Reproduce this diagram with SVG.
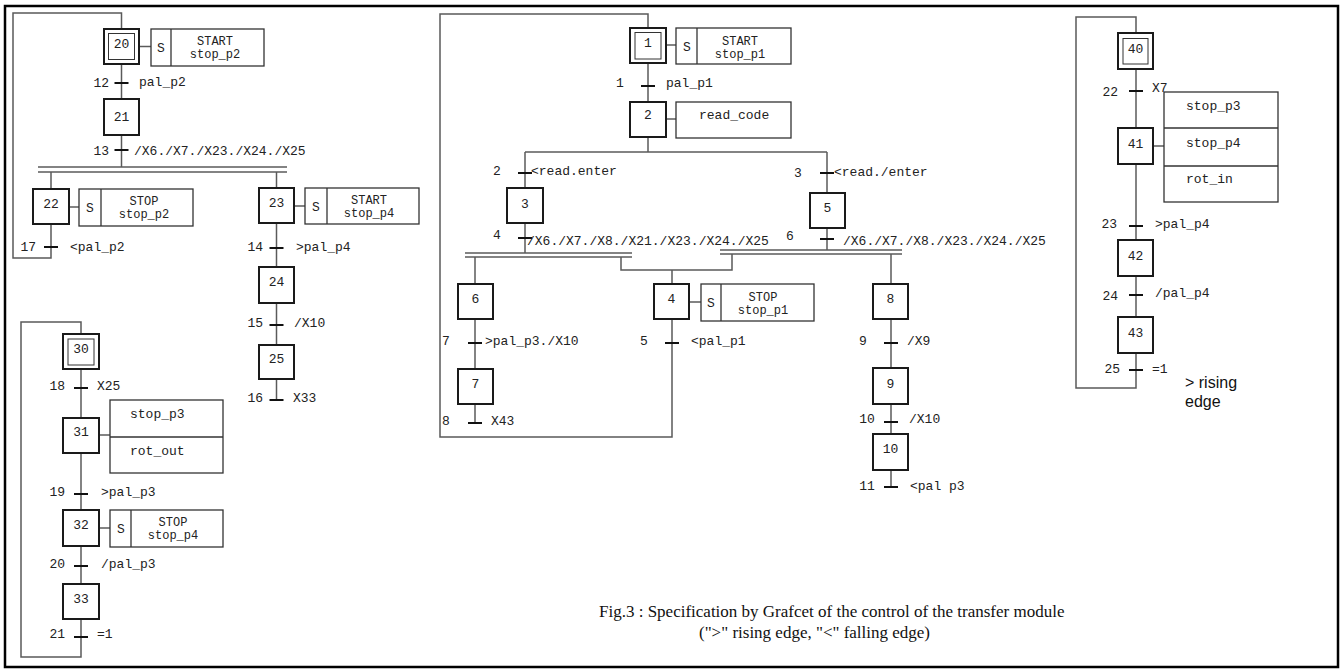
<svg xmlns="http://www.w3.org/2000/svg" width="1343" height="671" viewBox="0 0 1343 671">
<style>
.frame{fill:#fff;stroke:#000;stroke-width:2.5}
.step{fill:#fff;stroke:#1a1a1a;stroke-width:2}
.inner{fill:none;stroke:#333;stroke-width:1}
.act{fill:#fff;stroke:#333;stroke-width:1.3}
.ln{fill:none;stroke:#5a5a5a;stroke-width:1.5}
.tk{stroke:#111;stroke-width:2}
.t{font-family:"Liberation Mono","DejaVu Sans Mono",monospace;font-size:13px;fill:#222}
.a2{font-size:12px}
.m{text-anchor:middle}
.e{text-anchor:end}
.cap{font-family:"Liberation Serif","Times New Roman",serif;font-size:17px;fill:#111}
.note{font-family:"Liberation Sans",Arial,sans-serif;font-size:16px;fill:#111}
</style>
<defs>
<clipPath id="clip6"><rect x="835" y="225" width="215" height="30"/></clipPath>
</defs>
<rect class="frame" x="5" y="6" width="1333" height="661"/>

<g id="connectors">
<polyline class="ln" points="51,224 51,258 13,258 13,13 121.5,13 121.5,29"/>
<line class="ln" x1="121.5" y1="64" x2="121.5" y2="99"/>
<line class="ln" x1="121.5" y1="135" x2="121.5" y2="167"/>
<line class="ln" x1="38" y1="167" x2="287" y2="167"/>
<line class="ln" x1="38" y1="172" x2="287" y2="172"/>
<line class="ln" x1="51" y1="172" x2="51" y2="189"/>
<line class="ln" x1="276.5" y1="172" x2="276.5" y2="188"/>
<line class="ln" x1="276.5" y1="223" x2="276.5" y2="267"/>
<line class="ln" x1="276.5" y1="303" x2="276.5" y2="345"/>
<line class="ln" x1="276.5" y1="379" x2="276.5" y2="400"/>
<line class="ln" x1="139" y1="46.5" x2="151" y2="46.5"/>
<line class="ln" x1="69" y1="207" x2="79" y2="207"/>
<line class="ln" x1="294" y1="206" x2="305" y2="206"/>
<polyline class="ln" points="81,619 81,657 21,657 21,322 81,322 81,334"/>
<line class="ln" x1="81" y1="369" x2="81" y2="418"/>
<line class="ln" x1="81" y1="453" x2="81" y2="510"/>
<line class="ln" x1="81" y1="546" x2="81" y2="584"/>
<line class="ln" x1="99" y1="435" x2="110" y2="435"/>
<line class="ln" x1="99" y1="528" x2="110" y2="528"/>
<polyline class="ln" points="672,319 672,437 440,437 440,14 648,14 648,28"/>
<line class="ln" x1="648" y1="63" x2="648" y2="102"/>
<line class="ln" x1="648" y1="137" x2="648" y2="152"/>
<line class="ln" x1="525" y1="152" x2="827" y2="152"/>
<line class="ln" x1="525" y1="152" x2="525" y2="188"/>
<line class="ln" x1="525" y1="223" x2="525" y2="253"/>
<line class="ln" x1="827" y1="152" x2="827" y2="193"/>
<line class="ln" x1="827" y1="228" x2="827" y2="250"/>
<line class="ln" x1="465" y1="253" x2="632" y2="253"/>
<line class="ln" x1="465" y1="257" x2="632" y2="257"/>
<line class="ln" x1="720" y1="250" x2="902" y2="250"/>
<line class="ln" x1="720" y1="254" x2="902" y2="254"/>
<line class="ln" x1="475" y1="257" x2="475" y2="284"/>
<polyline class="ln" points="621,257 621,270 732,270 732,254"/>
<line class="ln" x1="672" y1="270" x2="672" y2="284"/>
<line class="ln" x1="891" y1="254" x2="891" y2="284"/>
<line class="ln" x1="475" y1="319" x2="475" y2="369"/>
<line class="ln" x1="475" y1="404" x2="475" y2="423"/>
<line class="ln" x1="891" y1="319" x2="891" y2="368"/>
<line class="ln" x1="891" y1="404" x2="891" y2="434"/>
<line class="ln" x1="891" y1="470" x2="891" y2="487"/>
<line class="ln" x1="666" y1="45" x2="676" y2="45"/>
<line class="ln" x1="666" y1="119" x2="676" y2="119"/>
<line class="ln" x1="689" y1="302" x2="701" y2="302"/>
<polyline class="ln" points="1136,353 1136,388 1076,388 1076,17 1136,17 1136,33"/>
<line class="ln" x1="1136" y1="69" x2="1136" y2="128"/>
<line class="ln" x1="1136" y1="164" x2="1136" y2="240"/>
<line class="ln" x1="1136" y1="276" x2="1136" y2="317"/>
<line class="ln" x1="1153" y1="146" x2="1164" y2="146"/>
</g>

<g id="step20"><rect class="step" x="104" y="29" width="35" height="35"/><rect class="inner" x="108.5" y="33.5" width="26" height="26"/><text class="t m" x="121.5" y="48">20</text></g>
<g id="action20"><rect class="act" x="151" y="29" width="113" height="37"/><line class="act" x1="171" y1="29" x2="171" y2="66"/><text class="t m" x="161" y="51.5">S</text><text class="t a2 m" x="215" y="45">START</text><text class="t a2 m" x="215" y="58">stop_p2</text></g>
<g id="t12"><line class="tk" x1="114.5" y1="83" x2="128.5" y2="83"/><text class="t e" x="109" y="87">12</text><text class="t" x="139" y="86">pal_p2</text></g>
<g id="step21"><rect class="step" x="104" y="99" width="35" height="36"/><text class="t m" x="121.5" y="121">21</text></g>
<g id="t13"><line class="tk" x1="114.5" y1="150" x2="128.5" y2="150"/><text class="t e" x="109" y="154.5">13</text><text class="t" x="134" y="154.5">/X6./X7./X23./X24./X25</text></g>
<g id="step22"><rect class="step" x="33" y="189" width="36" height="35"/><text class="t m" x="51" y="208">22</text></g>
<g id="action22"><rect class="act" x="79" y="189" width="114" height="37"/><line class="act" x1="101" y1="189" x2="101" y2="226"/><text class="t m" x="90" y="211.5">S</text><text class="t a2 m" x="144" y="205">STOP</text><text class="t a2 m" x="144" y="218">stop_p2</text></g>
<g id="t17"><line class="tk" x1="44" y1="247" x2="58" y2="247"/><text class="t e" x="36" y="251">17</text><text class="t" x="70" y="250.5">&lt;pal_p2</text></g>
<g id="step23"><rect class="step" x="259" y="188" width="35" height="35"/><text class="t m" x="276.5" y="207">23</text></g>
<g id="action23"><rect class="act" x="305" y="188" width="114" height="36"/><line class="act" x1="327" y1="188" x2="327" y2="224"/><text class="t m" x="316" y="210.5">S</text><text class="t a2 m" x="369" y="204">START</text><text class="t a2 m" x="369" y="217">stop_p4</text></g>
<g id="t14"><line class="tk" x1="269.5" y1="248" x2="283.5" y2="248"/><text class="t e" x="263" y="251">14</text><text class="t" x="296" y="251">&gt;pal_p4</text></g>
<g id="step24"><rect class="step" x="259" y="267" width="35" height="36"/><text class="t m" x="276.5" y="286">24</text></g>
<g id="t15"><line class="tk" x1="269.5" y1="325" x2="283.5" y2="325"/><text class="t e" x="263" y="327">15</text><text class="t" x="294" y="327">/X10</text></g>
<g id="step25"><rect class="step" x="259" y="345" width="35" height="34"/><text class="t m" x="276.5" y="362.5">25</text></g>
<g id="t16"><line class="tk" x1="269.5" y1="400" x2="283.5" y2="400"/><text class="t e" x="263" y="401.5">16</text><text class="t" x="293" y="401.5">X33</text></g>

<g id="step30"><rect class="step" x="63" y="334" width="36" height="35"/><rect class="inner" x="68" y="339" width="26" height="26"/><text class="t m" x="81" y="352.5">30</text></g>
<g id="t18"><line class="tk" x1="74" y1="388" x2="88" y2="388"/><text class="t e" x="65" y="389.5">18</text><text class="t" x="97" y="389.5">X25</text></g>
<g id="step31"><rect class="step" x="63" y="418" width="36" height="35"/><text class="t m" x="81" y="435.5">31</text></g>
<g id="action31"><rect class="act" x="110" y="400" width="113" height="73"/><line class="act" x1="110" y1="437" x2="223" y2="437"/><text class="t" x="130" y="417.5">stop_p3</text><text class="t" x="130" y="454.5">rot_out</text></g>
<g id="t19"><line class="tk" x1="74" y1="494" x2="88" y2="494"/><text class="t e" x="65" y="495.5">19</text><text class="t" x="101" y="495.5">&gt;pal_p3</text></g>
<g id="step32"><rect class="step" x="63" y="510" width="36" height="36"/><text class="t m" x="81" y="528.5">32</text></g>
<g id="action32"><rect class="act" x="110" y="510" width="113" height="37"/><line class="act" x1="131" y1="510" x2="131" y2="547"/><text class="t m" x="121" y="532.5">S</text><text class="t a2 m" x="173" y="526">STOP</text><text class="t a2 m" x="173" y="539">stop_p4</text></g>
<g id="t20"><line class="tk" x1="74" y1="566" x2="88" y2="566"/><text class="t e" x="65" y="567.5">20</text><text class="t" x="101" y="567.5">/pal_p3</text></g>
<g id="step33"><rect class="step" x="63" y="584" width="36" height="35"/><text class="t m" x="81" y="602.5">33</text></g>
<g id="t21"><line class="tk" x1="74" y1="637" x2="88" y2="637"/><text class="t e" x="65" y="637.5">21</text><text class="t" x="97" y="637.5">=1</text></g>

<g id="step1"><rect class="step" x="630" y="28" width="36" height="35"/><rect class="inner" x="635" y="32.5" width="26" height="26.5"/><text class="t m" x="648" y="47">1</text></g>
<g id="action1"><rect class="act" x="676" y="28" width="115" height="36"/><line class="act" x1="697" y1="28" x2="697" y2="64"/><text class="t m" x="687" y="51">S</text><text class="t a2 m" x="740" y="44.5">START</text><text class="t a2 m" x="740" y="57.5">stop_p1</text></g>
<g id="t1"><line class="tk" x1="641" y1="86" x2="655" y2="86"/><text class="t m" x="620" y="86.5">1</text><text class="t" x="666" y="86.5">pal_p1</text></g>
<g id="step2"><rect class="step" x="630" y="102" width="36" height="35"/><text class="t m" x="648" y="118.5">2</text></g>
<g id="action2"><rect class="act" x="676" y="102" width="115" height="36"/><text class="t" x="699" y="118.5">read_code</text></g>
<g id="t2"><line class="tk" x1="518" y1="173" x2="532" y2="173"/><text class="t m" x="497" y="175">2</text><text class="t" x="531" y="175">&lt;read.enter</text></g>
<g id="t3"><line class="tk" x1="820" y1="173" x2="834" y2="173"/><text class="t m" x="798" y="177">3</text><text class="t" x="834" y="176">&lt;read./enter</text></g>
<g id="step3"><rect class="step" x="507" y="188" width="36" height="35"/><text class="t m" x="525" y="207.5">3</text></g>
<g id="step5"><rect class="step" x="810" y="193" width="35" height="35"/><text class="t m" x="827.5" y="211.5">5</text></g>
<g id="t4"><line class="tk" x1="518" y1="238" x2="532" y2="238"/><text class="t m" x="497" y="239">4</text><text class="t" x="527" y="244.5">/X6./X7./X8./X21./X23./X24./X25</text></g>
<g id="t6"><line class="tk" x1="820" y1="239" x2="834" y2="239"/><text class="t m" x="790" y="239.5">6</text><text class="t" x="843" y="244.5" clip-path="url(#clip6)">/X6./X7./X8./X23./X24./X25</text></g>
<g id="step6"><rect class="step" x="458" y="284" width="35" height="35"/><text class="t m" x="475.5" y="302.5">6</text></g>
<g id="step4"><rect class="step" x="654" y="284" width="35" height="35"/><text class="t m" x="671.5" y="302.5">4</text></g>
<g id="action4"><rect class="act" x="701" y="284" width="113" height="37"/><line class="act" x1="721" y1="284" x2="721" y2="321"/><text class="t m" x="711" y="307">S</text><text class="t a2 m" x="763" y="301">STOP</text><text class="t a2 m" x="763" y="314">stop_p1</text></g>
<g id="step8"><rect class="step" x="873" y="284" width="35" height="35"/><text class="t m" x="890.5" y="302.5">8</text></g>
<g id="t7"><line class="tk" x1="468" y1="343" x2="482" y2="343"/><text class="t m" x="446" y="344.5">7</text><text class="t" x="485" y="344.5">&gt;pal_p3./X10</text></g>
<g id="t5"><line class="tk" x1="665" y1="343" x2="679" y2="343"/><text class="t m" x="644" y="344.5">5</text><text class="t" x="691" y="344.5">&lt;pal_p1</text></g>
<g id="t9"><line class="tk" x1="884" y1="343" x2="898" y2="343"/><text class="t m" x="863" y="344.5">9</text><text class="t" x="907" y="344.5">/X9</text></g>
<g id="step7"><rect class="step" x="458" y="369" width="35" height="35"/><text class="t m" x="475.5" y="387.5">7</text></g>
<g id="step9"><rect class="step" x="873" y="368" width="35" height="36"/><text class="t m" x="890.5" y="387.5">9</text></g>
<g id="t8"><line class="tk" x1="468" y1="423" x2="482" y2="423"/><text class="t m" x="446" y="424.5">8</text><text class="t" x="491" y="424.5">X43</text></g>
<g id="t10"><line class="tk" x1="884" y1="422" x2="898" y2="422"/><text class="t m" x="867" y="422.5">10</text><text class="t" x="909" y="422.5">/X10</text></g>
<g id="step10"><rect class="step" x="873" y="434" width="35" height="36"/><text class="t m" x="890.5" y="452.5">10</text></g>
<g id="t11"><line class="tk" x1="884" y1="487" x2="898" y2="487"/><text class="t m" x="867" y="489.5">11</text><text class="t" x="910" y="489.5">&lt;pal p3</text></g>

<g id="step40"><rect class="step" x="1118" y="33" width="35" height="36"/><rect class="inner" x="1123" y="38.5" width="25" height="25.5"/><text class="t m" x="1135.5" y="52.5">40</text></g>
<g id="t22"><line class="tk" x1="1129" y1="91" x2="1143" y2="91"/><text class="t e" x="1118" y="96">22</text><text class="t" x="1152" y="91.5">X7</text></g>
<g id="action41"><rect class="act" x="1164" y="92" width="114" height="110"/><line class="act" x1="1164" y1="128" x2="1278" y2="128"/><line class="act" x1="1164" y1="166" x2="1278" y2="166"/><text class="t" x="1186" y="110">stop_p3</text><text class="t" x="1186" y="147">stop_p4</text><text class="t" x="1186" y="183">rot_in</text></g>
<g id="step41"><rect class="step" x="1118" y="128" width="35" height="36"/><text class="t m" x="1135.5" y="147.5">41</text></g>
<g id="t23"><line class="tk" x1="1129" y1="226" x2="1143" y2="226"/><text class="t e" x="1117" y="227.5">23</text><text class="t" x="1155" y="227.5">&gt;pal_p4</text></g>
<g id="step42"><rect class="step" x="1118" y="240" width="35" height="36"/><text class="t m" x="1135.5" y="259.5">42</text></g>
<g id="t24"><line class="tk" x1="1129" y1="295" x2="1143" y2="295"/><text class="t e" x="1118" y="299.5">24</text><text class="t" x="1155" y="296.5">/pal_p4</text></g>
<g id="step43"><rect class="step" x="1118" y="317" width="35" height="36"/><text class="t m" x="1135.5" y="336.5">43</text></g>
<g id="t25"><line class="tk" x1="1129" y1="370" x2="1143" y2="370"/><text class="t e" x="1120" y="372.5">25</text><text class="t" x="1152" y="372.5">=1</text></g>

<g id="note"><text class="note" x="1185" y="388">&gt; rising</text><text class="note" x="1185" y="407">edge</text></g>
<g id="caption"><text class="cap" x="599" y="617">Fig.3 : Specification by Grafcet of the control of the transfer module</text><text class="cap" x="699" y="638">("&gt;" rising edge, "&lt;" falling edge)</text></g>
</svg>
